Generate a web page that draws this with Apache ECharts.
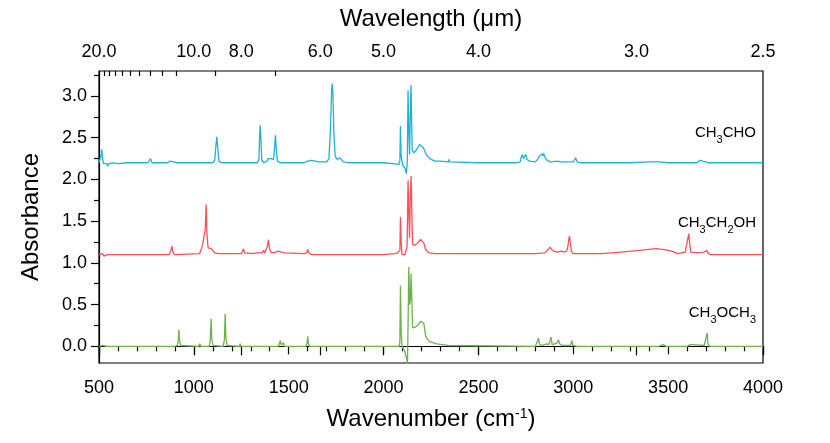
<!DOCTYPE html>
<html>
<head>
<meta charset="utf-8">
<script src="https://cdn.jsdelivr.net/npm/echarts@6/dist/echarts.min.js"></script>
<style>
  html, body { margin: 0; padding: 0; background: #fff; }
  #chart { width: 830px; height: 443px; }
</style>
</head>
<body>
<div id="chart"></div>
<script>
// [wavenumber (cm-1), absorbance], offset as plotted
const acetaldehyde = [
  [500, 2.20], [506, 2.22], [512, 2.30], [515, 2.36], [518, 2.26], [524, 2.19], [532, 2.18], [540, 2.19],
  [546, 2.16], [552, 2.19], [560, 2.18], [575, 2.20], [600, 2.19], [650, 2.20], [750, 2.20], [762, 2.21],
  [771, 2.25], [780, 2.20], [860, 2.20], [875, 2.22], [884, 2.23], [895, 2.21], [910, 2.20], [1100, 2.20],
  [1110, 2.23], [1116, 2.40], [1121, 2.51], [1126, 2.38], [1132, 2.22], [1145, 2.20], [1335, 2.20],
  [1343, 2.24], [1347, 2.55], [1350, 2.65], [1353, 2.50], [1358, 2.23], [1370, 2.20], [1385, 2.22],
  [1392, 2.25], [1398, 2.23], [1405, 2.25], [1412, 2.23], [1420, 2.24], [1426, 2.40], [1430, 2.53],
  [1434, 2.38], [1440, 2.22], [1455, 2.20], [1580, 2.20], [1600, 2.22], [1620, 2.23], [1640, 2.22],
  [1660, 2.21], [1700, 2.21], [1712, 2.25], [1720, 2.60], [1726, 3.05], [1729, 3.15], [1733, 3.05],
  [1738, 2.55], [1745, 2.28], [1755, 2.24], [1768, 2.26], [1778, 2.25], [1790, 2.21], [1820, 2.20],
  [2000, 2.20], [2050, 2.19], [2080, 2.18], [2086, 2.22], [2089, 2.64], [2092, 2.30], [2100, 2.17],
  [2112, 2.14], [2120, 2.07], [2125, 2.20], [2129, 3.07], [2133, 2.60], [2137, 2.30], [2141, 2.80],
  [2145, 3.13], [2148, 2.70], [2151, 2.35], [2160, 2.32], [2175, 2.36], [2190, 2.42], [2198, 2.43],
  [2210, 2.38], [2225, 2.30], [2243, 2.25], [2270, 2.22], [2296, 2.22], [2340, 2.21], [2344, 2.24],
  [2348, 2.21], [2500, 2.20], [2700, 2.20], [2720, 2.21], [2726, 2.27], [2731, 2.30], [2737, 2.25],
  [2744, 2.26], [2750, 2.30], [2756, 2.24], [2770, 2.22], [2800, 2.21], [2812, 2.24], [2818, 2.27],
  [2826, 2.25], [2836, 2.31], [2840, 2.28], [2845, 2.31], [2852, 2.26], [2862, 2.23], [2880, 2.21],
  [2919, 2.22], [2930, 2.21], [2960, 2.21], [2968, 2.23], [2976, 2.21], [3000, 2.21], [3012, 2.26],
  [3020, 2.21], [3040, 2.20], [3300, 2.20], [3400, 2.21], [3450, 2.21], [3500, 2.20], [3650, 2.20],
  [3668, 2.23], [3674, 2.25], [3682, 2.22], [3700, 2.21], [3708, 2.23], [3714, 2.20], [4000, 2.20]
]

const ethanol = [
  [500, 1.10], [510, 1.09], [520, 1.11], [526, 1.08], [532, 1.10], [545, 1.10], [800, 1.10], [810, 1.12],
  [820, 1.10], [870, 1.10], [878, 1.14], [884, 1.20], [890, 1.13], [898, 1.10], [1030, 1.11], [1040, 1.17],
  [1047, 1.23], [1055, 1.22], [1060, 1.40], [1065, 1.70], [1069, 1.35], [1075, 1.18], [1083, 1.16],
  [1092, 1.17], [1100, 1.16], [1110, 1.12], [1130, 1.11], [1250, 1.11], [1258, 1.13], [1262, 1.17],
  [1267, 1.12], [1275, 1.11], [1310, 1.11], [1330, 1.12], [1360, 1.12], [1368, 1.15], [1373, 1.12],
  [1380, 1.13], [1388, 1.20], [1393, 1.28], [1398, 1.18], [1405, 1.13], [1420, 1.12], [1445, 1.14],
  [1451, 1.16], [1460, 1.13], [1480, 1.12], [1580, 1.11], [1595, 1.12], [1600, 1.16], [1606, 1.12],
  [1620, 1.10], [2000, 1.10], [2060, 1.11], [2075, 1.12], [2082, 1.11], [2086, 1.15], [2089, 1.55],
  [2093, 1.25], [2097, 1.10], [2105, 1.11], [2113, 1.10], [2120, 1.09], [2124, 1.20], [2129, 1.99],
  [2133, 1.60], [2137, 1.30], [2141, 1.80], [2145, 2.04], [2148, 1.75], [2150, 1.45], [2154, 1.22],
  [2165, 1.21], [2180, 1.24], [2195, 1.28], [2201, 1.29], [2212, 1.24], [2222, 1.16], [2240, 1.12],
  [2270, 1.11], [2340, 1.11], [2344, 1.13], [2348, 1.11], [2800, 1.11], [2850, 1.12], [2868, 1.16],
  [2878, 1.19], [2886, 1.16], [2898, 1.14], [2908, 1.15], [2920, 1.13], [2935, 1.14], [2950, 1.13],
  [2965, 1.14], [2972, 1.20], [2976, 1.28], [2980, 1.32], [2984, 1.25], [2990, 1.14], [3000, 1.11],
  [3050, 1.11], [3150, 1.11], [3250, 1.13], [3350, 1.15], [3437, 1.17], [3480, 1.16], [3520, 1.14],
  [3550, 1.11], [3590, 1.13], [3600, 1.25], [3609, 1.35], [3614, 1.22], [3620, 1.13], [3660, 1.12],
  [3690, 1.13], [3700, 1.12], [3705, 1.15], [3709, 1.12], [3720, 1.10], [4000, 1.10]
]

const dimethylEther = [
  [500, 0.00], [520, 0.01], [540, 0.00], [900, 0.00], [914, 0.01], [918, 0.08], [921, 0.20], [924, 0.08],
  [930, 0.01], [1025, 0.00], [1031, 0.03], [1037, 0.00], [1080, 0.00], [1086, 0.06], [1091, 0.33],
  [1095, 0.08], [1101, 0.01], [1155, 0.00], [1161, 0.08], [1165, 0.39], [1169, 0.10], [1175, 0.01],
  [1240, 0.00], [1244, 0.03], [1248, 0.00], [1445, 0.00], [1451, 0.03], [1455, 0.07], [1460, 0.02],
  [1468, 0.01], [1473, 0.04], [1478, 0.00], [1590, 0.00], [1596, 0.03], [1600, 0.12], [1604, 0.03],
  [1612, 0.00], [2000, 0.00], [2060, 0.00], [2082, 0.00], [2086, 0.05], [2089, 0.73], [2093, 0.15],
  [2097, 0.00], [2110, -0.05], [2122, -0.15], [2126, -0.21], [2130, 0.40], [2133, 0.95], [2137, 0.50],
  [2141, 0.55], [2145, 0.87], [2149, 0.55], [2153, 0.22], [2165, 0.23], [2180, 0.25], [2195, 0.30],
  [2203, 0.32], [2212, 0.28], [2222, 0.12], [2240, 0.06], [2280, 0.03], [2340, 0.01], [2344, 0.02],
  [2350, 0.00], [2800, 0.00], [2810, 0.02], [2817, 0.10], [2822, 0.02], [2840, 0.01], [2858, 0.03],
  [2864, 0.04], [2870, 0.02], [2876, 0.04], [2883, 0.11], [2888, 0.02], [2900, 0.03], [2915, 0.04],
  [2922, 0.08], [2928, 0.03], [2940, 0.01], [2985, 0.01], [2992, 0.07], [2998, 0.01], [3020, 0.00],
  [3450, 0.00], [3473, 0.02], [3490, 0.00], [3600, 0.00], [3615, 0.02], [3622, 0.01], [3630, 0.02],
  [3640, 0.00], [3690, 0.01], [3700, 0.03], [3706, 0.16], [3710, 0.03], [3720, 0.00], [4000, 0.00]
]

// top axis: wavelength in micrometres
const wavelengthTicks = [20.0, 10.0, 8.0, 6.0, 5.0, 4.0, 3.0, 2.5]
const wavelengthMinor = [19, 18, 17, 16, 15, 14, 13, 12, 11, 9, 7]

const yLabels = [0, 0.5, 1.0, 1.5, 2.0, 2.5, 3.0]
const yMinor = [0.25, 0.75, 1.25, 1.75, 2.25, 2.75, 3.25]

const FONT = '"Liberation Sans", Arial, sans-serif'
const toWn = (um) => 10000 / um

const chart = echarts.init(document.getElementById('chart'))

const main = { fontSize: 15, fontFamily: FONT, color: '#000', lineHeight: 26 }
const sub = { fontSize: 11, fontFamily: FONT, color: '#000', verticalAlign: 'bottom', lineHeight: 11 }

function formula(text, right, top) {
  return {
    type: 'text',
    right: 830 - right,
    top: top,
    style: { text: text, font: '15px ' + FONT, rich: { m: main, s: sub } }
  }
}

chart.setOption({
  animation: false,
  textStyle: { fontFamily: FONT, color: '#000' },
  grid: {
    left: 99, right: 67, top: 71, bottom: 80,
    show: true, borderColor: '#000', borderWidth: 1.2
  },
  xAxis: [
    {
      type: 'value', position: 'bottom', min: 500, max: 4000, interval: 500,
      name: 'Wavenumber (cm{sup|-1})', nameLocation: 'middle', nameGap: 44,
      nameTextStyle: {
        fontSize: 24, fontFamily: FONT, color: '#000',
        rich: { sup: { fontSize: 14, fontFamily: FONT, color: '#000', verticalAlign: 'top', lineHeight: 14 } }
      },
      axisLine: { lineStyle: { color: '#000', width: 1.2 } },
      axisTick: { inside: false, length: 8, lineStyle: { color: '#000', width: 1.2 } },
      minorTick: { show: true, splitNumber: 5, length: 5, lineStyle: { color: '#000', width: 1.2 } },
      axisLabel: { fontSize: 18, color: '#000', margin: 16, formatter: (v) => String(v) },
      splitLine: { show: false }
    },
    {
      type: 'value', position: 'top', min: 500, max: 4000,
      name: 'Wavelength (\u03bcm)', nameLocation: 'middle', nameGap: 40,
      nameTextStyle: { fontSize: 24, fontFamily: FONT, color: '#000' },
      axisLine: { lineStyle: { color: '#000', width: 1.2 } },
      axisTick: {
        inside: true, length: 9, customValues: wavelengthTicks.map(toWn),
        lineStyle: { color: '#000', width: 1.2 }
      },
      axisLabel: {
        fontSize: 18, color: '#000', margin: 10,
        customValues: wavelengthTicks.map(toWn),
        formatter: (v) => (10000 / v).toFixed(1)
      },
      splitLine: { show: false }
    },
    {
      type: 'value', position: 'top', min: 500, max: 4000,
      axisLine: { show: false },
      axisTick: {
        inside: true, length: 5, customValues: wavelengthMinor.map(toWn),
        lineStyle: { color: '#000', width: 1.2 }
      },
      axisLabel: { show: false },
      splitLine: { show: false }
    }
  ],
  yAxis: [
    {
      type: 'value', min: -0.2, max: 3.3,
      name: 'Absorbance', nameLocation: 'middle', nameGap: 56,
      nameTextStyle: { fontSize: 24, fontFamily: FONT, color: '#000' },
      axisLine: { show: true, lineStyle: { color: '#000', width: 1.2 } },
      axisTick: { show: true, inside: false, length: 8, customValues: yLabels, lineStyle: { color: '#000', width: 1.2 } },
      axisLabel: { fontSize: 18, color: '#000', margin: 12, customValues: yLabels, formatter: (v) => v.toFixed(1) },
      splitLine: { show: false }
    },
    {
      type: 'value', min: -0.2, max: 3.3, position: 'left',
      axisLine: { show: false },
      axisTick: { show: true, inside: false, length: 5, customValues: yMinor, lineStyle: { color: '#000', width: 1.2 } },
      axisLabel: { show: false },
      splitLine: { show: false }
    }
  ],
  series: [
    {
      name: 'CH3CHO', type: 'line', data: acetaldehyde, showSymbol: false,
      lineStyle: { color: '#1fb3d1', width: 1.3 }, clip: true
    },
    {
      name: 'CH3CH2OH', type: 'line', data: ethanol, showSymbol: false,
      lineStyle: { color: '#f8505b', width: 1.3 }, clip: true
    },
    {
      name: 'CH3OCH3', type: 'line', data: dimethylEther, showSymbol: false,
      lineStyle: { color: '#6fb24b', width: 1.3 }, clip: true
    }
  ],
  graphic: [
    formula('{m|CH}{s|3}{m|CHO}', 756, 125),
    formula('{m|CH}{s|3}{m|CH}{s|2}{m|OH}', 756, 215),
    formula('{m|CH}{s|3}{m|OCH}{s|3}', 756, 305)
  ]
})
</script>
</body>
</html>
